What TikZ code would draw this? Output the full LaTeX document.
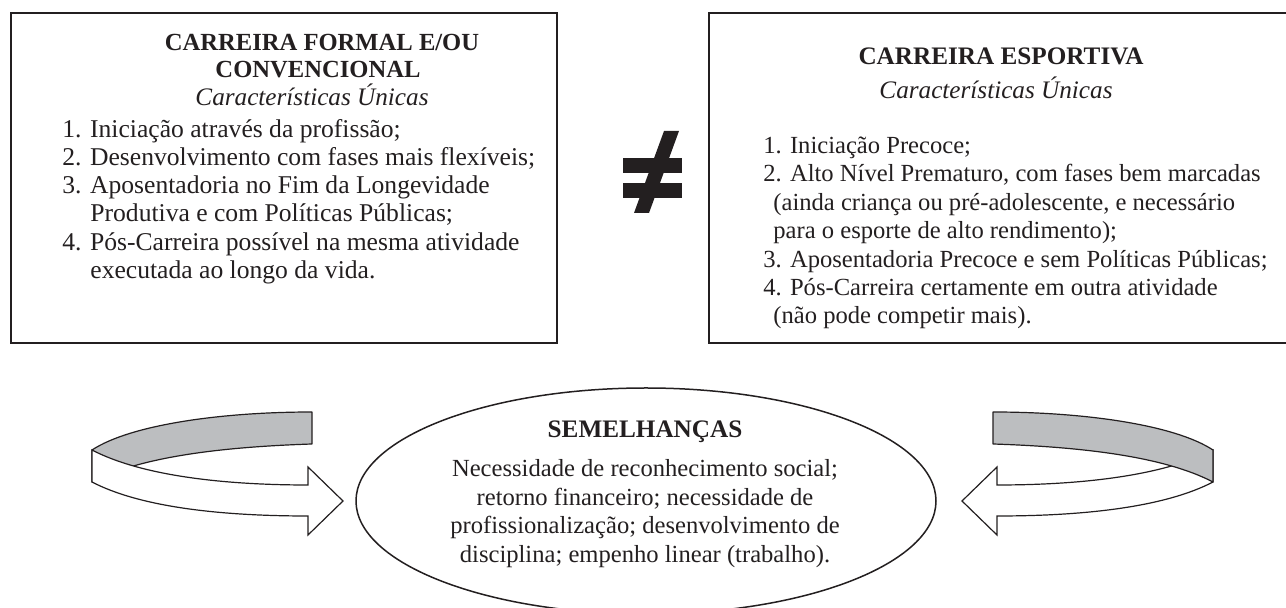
\documentclass[tikz,border=0pt]{standalone}
\usepackage{fontspec}
\setmainfont{Liberation Serif}
\definecolor{linec}{RGB}{35,31,32}
\definecolor{bandgray}{RGB}{188,190,192}
\tikzset{
  box/.style={draw=linec, line width=0.75pt},
  body/.style={font=\fontsize{12.3}{14.2}\selectfont, inner sep=0pt, text=linec},
  lbody/.style={font=\fontsize{12.8}{14.2}\selectfont, inner sep=0pt, text=linec},
  ttl/.style={font=\fontsize{12.6}{14.2}\selectfont\bfseries, inner sep=0pt, text=linec},
  lttl/.style={font=\fontsize{12.3}{14.2}\selectfont\bfseries, inner sep=0pt, text=linec},
  sub/.style={font=\fontsize{12.6}{14.2}\selectfont\itshape, inner sep=0pt, text=linec},
  band/.style={draw=linec, line width=0.6pt, fill=bandgray, line join=round},
  front/.style={draw=linec, line width=0.6pt, fill=white, line join=miter},
}
\begin{document}
\begin{tikzpicture}[x=0.5pt,y=-0.5pt]
\useasboundingbox (0,0) rectangle (1286,608);
% boxes
\draw[box] (11,13) rectangle (557,343);
\draw[box] (709,13) rectangle (1292,343);
% left box texts
\node[lttl, anchor=base] (lt1) at (322,51) {CARREIRA FORMAL E/OU};
\node[lttl, anchor=base] (lt2) at (318,78) {CONVENCIONAL};
\node[sub, anchor=base] (ls) at (312,106) {Características Únicas};
\node[lbody, anchor=base west] (l1) at (62,138) {1. Iniciação através da profissão;};
\node[lbody, anchor=base west] (l2) at (62,166) {2. Desenvolvimento com fases mais flexíveis;};
\node[lbody, anchor=base west] (l3) at (62,194) {3. Aposentadoria no Fim da Longevidade};
\node[lbody, anchor=base west] (l4) at (90,222) {Produtiva e com Políticas Públicas;};
\node[lbody, anchor=base west] (l5) at (62,251) {4. Pós-Carreira possível na mesma atividade};
\node[lbody, anchor=base west] (l6) at (90,279) {executada ao longo da vida.};
% right box texts
\node[ttl, anchor=base] (rt1) at (1001,65) {CARREIRA ESPORTIVA};
\node[sub, anchor=base] (rs) at (996,99) {Características Únicas};
\node[body, anchor=base west] (r1) at (763,154) {1. Iniciação Precoce;};
\node[body, anchor=base west] (r2) at (763,182) {2. Alto Nível Prematuro, com fases bem marcadas};
\node[body, anchor=base west] (r3) at (773,211) {(ainda criança ou pré-adolescente, e necessário};
\node[body, anchor=base west] (r4) at (773,239) {para o esporte de alto rendimento);};
\node[body, anchor=base west] (r5) at (763,268) {3. Aposentadoria Precoce e sem Políticas Públicas;};
\node[body, anchor=base west] (r6) at (763,296) {4. Pós-Carreira certamente em outra atividade};
\node[body, anchor=base west] (r7) at (773,324) {(não pode competir mais).};
% not-equal sign
\fill[linec] (623,158) rectangle (682,173);
\fill[linec] (623,183) rectangle (682,198);
\fill[linec] (664,131) -- (679,131) -- (649,213) -- (634,213) -- cycle;
% ellipse
\draw[box] (646,501) ellipse [x radius=290, y radius=113];
\node[ttl, anchor=base] (et) at (645,438) {SEMELHANÇAS};
\node[body, anchor=base] (e1) at (645,477) {Necessidade de reconhecimento social;};
\node[body, anchor=base] (e2) at (645,506) {retorno financeiro; necessidade de};
\node[body, anchor=base] (e3) at (645,534) {profissionalização; desenvolvimento de};
\node[body, anchor=base] (e4) at (645,563) {disciplina; empenho linear (trabalho).};
% left curved arrow
\draw[band] (92,450) .. controls (130,425) and (220,412) .. (312,412) -- (312,444)
  .. controls (220,447) and (140,457) .. (92,482) -- cycle;
\draw[front] (92,450) -- (92,482) .. controls (140,507) and (220,516) .. (308,516)
  -- (308,535) -- (343,501) -- (308,467) -- (308,485)
  .. controls (220,485) and (140,475) .. (92,450) -- cycle;
% right curved arrow
\draw[front] (1213,450) -- (1213,482) .. controls (1165,507) and (1085,516) .. (997,516)
  -- (997,535) -- (962,501) -- (997,467) -- (997,485)
  .. controls (1085,485) and (1165,475) .. (1213,450) -- cycle;
\draw[band] (1213,450) .. controls (1175,425) and (1085,412) .. (993,412) -- (993,444)
  .. controls (1085,447) and (1165,457) .. (1213,482) -- cycle;
\end{tikzpicture}
\end{document}
